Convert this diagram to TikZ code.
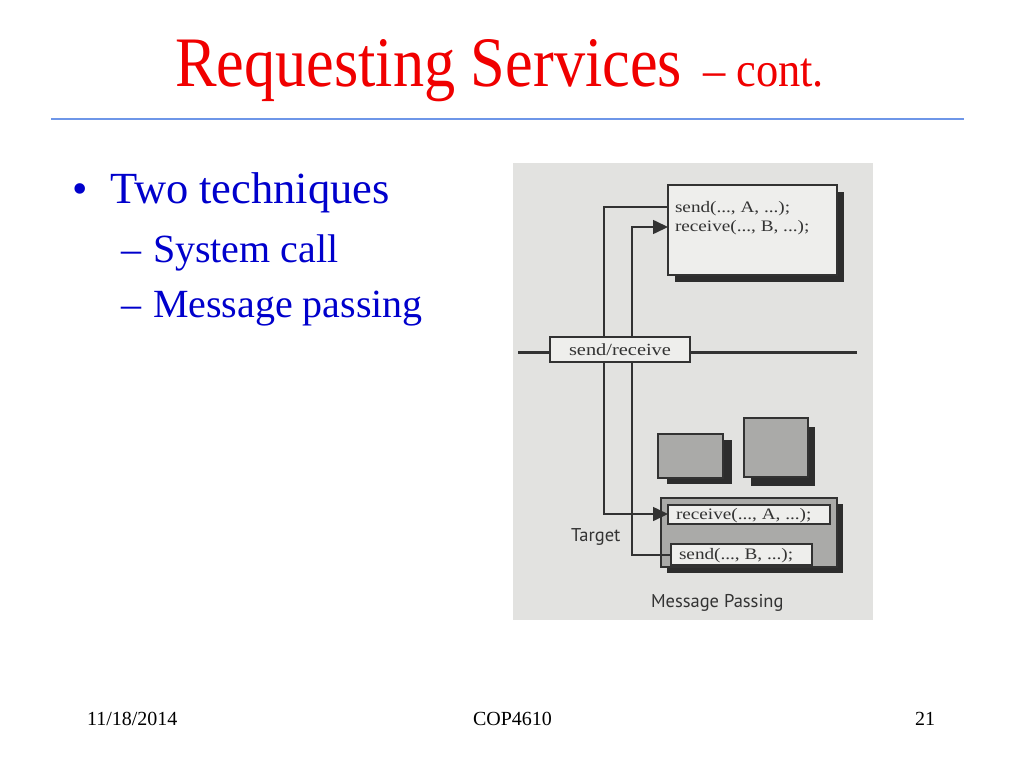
\documentclass[tikz,border=0pt]{standalone}
\usepackage{fontspec}
\setmainfont{Liberation Serif}
\newfontfamily\labfont{PT Sans}
\usetikzlibrary{arrows.meta}
\definecolor{titlered}{RGB}{240,0,0}
\definecolor{textblue}{RGB}{0,0,204}
\definecolor{rulecol}{RGB}{110,150,232}
\definecolor{scanbg}{RGB}{226,226,224}
\definecolor{boxline}{RGB}{50,50,50}
\definecolor{lightfill}{RGB}{238,238,236}
\definecolor{midfill}{RGB}{170,170,168}
\definecolor{shadowcol}{RGB}{45,45,45}
\newcommand{\codetxt}[1]{\scalebox{1.2}[1]{#1}}
\tikzset{
  x=1pt, y=-1pt,
  plain/.style={inner sep=0pt, outer sep=0pt},
  boxbase/.style={draw=boxline, line width=1.6pt, inner sep=0pt, outer sep=0pt, anchor=north west},
  lightbox/.style={boxbase, fill=lightfill},
  greybox/.style={boxbase, fill=midfill},
  shadowbox/.style={fill=shadowcol, inner sep=0pt, outer sep=0pt, anchor=north west},
  conn/.style={draw=boxline, line width=1.6pt},
  arr/.style={conn, -{Triangle[length=15pt,width=14pt]}},
  code/.style={plain, anchor=base west, font=\fontsize{16}{16}\selectfont, text=black!80},
  lab/.style={plain, font=\labfont\fontsize{18.5}{18.5}\selectfont, text=black!80},
}
\begin{document}
\begin{tikzpicture}
\useasboundingbox (0,0) rectangle (1024,768);
\fill[white] (0,0) rectangle (1024,768);

% title
\node[plain, anchor=base west, text=titlered] (title) at (175,86)
  {\resizebox{507pt}{\height}{\fontsize{71}{71}\selectfont Requesting Services}};
\node[plain, anchor=base west, text=titlered] (cont) at (703,86)
  {\resizebox{121pt}{\height}{\fontsize{49}{49}\selectfont – cont.}};
\draw[rulecol, line width=1.2pt] (51,119) -- (964,119);

% bullets
\node[plain, anchor=base west, text=textblue, font=\fontsize{44}{44}\selectfont] (b1) at (72,203) {•};
\node[plain, anchor=base west, text=textblue, font=\fontsize{44.5}{44.5}\selectfont] (t1) at (110,203) {Two techniques};
\node[plain, anchor=base west, text=textblue, font=\fontsize{40}{40}\selectfont] (d1) at (121,262) {–};
\node[plain, anchor=base west, text=textblue, font=\fontsize{40}{40}\selectfont] (t2) at (153,262) {System call};
\node[plain, anchor=base west, text=textblue, font=\fontsize{40}{40}\selectfont] (d2) at (121,317) {–};
\node[plain, anchor=base west, text=textblue, font=\fontsize{40}{40}\selectfont] (t3) at (153,317) {Message passing};

% footer
\node[plain, anchor=base west, font=\fontsize{20}{20}\selectfont] (date) at (87,725) {11/18/2014};
\node[plain, anchor=base west, font=\fontsize{20}{20}\selectfont] (course) at (473,725) {COP4610};
\node[plain, anchor=base west, font=\fontsize{20}{20}\selectfont] (page) at (915,725) {21};

% scanned figure background
\fill[scanbg] (513,163) rectangle (873,620);

% bus line
\coordinate (busL) at (518,352);
\coordinate (busR) at (857,352);
\draw[boxline, line width=3pt] (busL) -- (busR);

% top (sender) box
\node[shadowbox, minimum width=169pt, minimum height=90pt] (topsh) at (675,192) {};
\node[lightbox, minimum width=169pt, minimum height=90pt] (top) at (668,185) {};
\node[code] (sendA) at (675,212) {\codetxt{send(..., A, ...);}};
\node[code] (recvB) at (675,231) {\codetxt{receive(..., B, ...);}};

% other processes
\node[shadowbox, minimum width=65pt, minimum height=44pt] (p1sh) at (667,440) {};
\node[greybox, minimum width=65pt, minimum height=44pt] (p1) at (658,434) {};
\node[shadowbox, minimum width=64pt, minimum height=59pt] (p2sh) at (751,427) {};
\node[greybox, minimum width=64pt, minimum height=59pt] (p2) at (744,418) {};

% target process
\node[shadowbox, minimum width=176pt, minimum height=69pt] (tgsh) at (667,504) {};
\node[greybox, minimum width=176pt, minimum height=69pt] (tg) at (661,498) {};
\node[lightbox, minimum width=162pt, minimum height=19pt] (rA) at (668,505) {};
\node[code] (rAt) at (676,519) {\codetxt{receive(..., A, ...);}};
\node[lightbox, minimum width=141pt, minimum height=21pt] (sB) at (671,544) {};
\node[code] (sBt) at (679,559) {\codetxt{send(..., B, ...);}};

% connectors
\coordinate (a1) at (604,207);
\coordinate (a2) at (604,514);
\draw[arr] (top.west |- a1) -- (a1) -- (a2) -- (rA.west |- a2);
\coordinate (c1) at (632,555);
\coordinate (c2) at (632,227);
\draw[arr] (sB.west |- c1) -- (c1) -- (c2) -- (top.west |- c2);

% send/receive interface box
\node[lightbox, minimum width=140pt, minimum height=25pt, anchor=center,
      font=\fontsize{17}{17}\selectfont, text=black!80] (sr) at (620,349.5) {\codetxt{send/receive}};

% labels
\node[lab, anchor=base west] (target) at (571,541) {Target};
\node[lab, anchor=base west] (mp) at (651,607) {Message Passing};
\end{tikzpicture}
\end{document}
